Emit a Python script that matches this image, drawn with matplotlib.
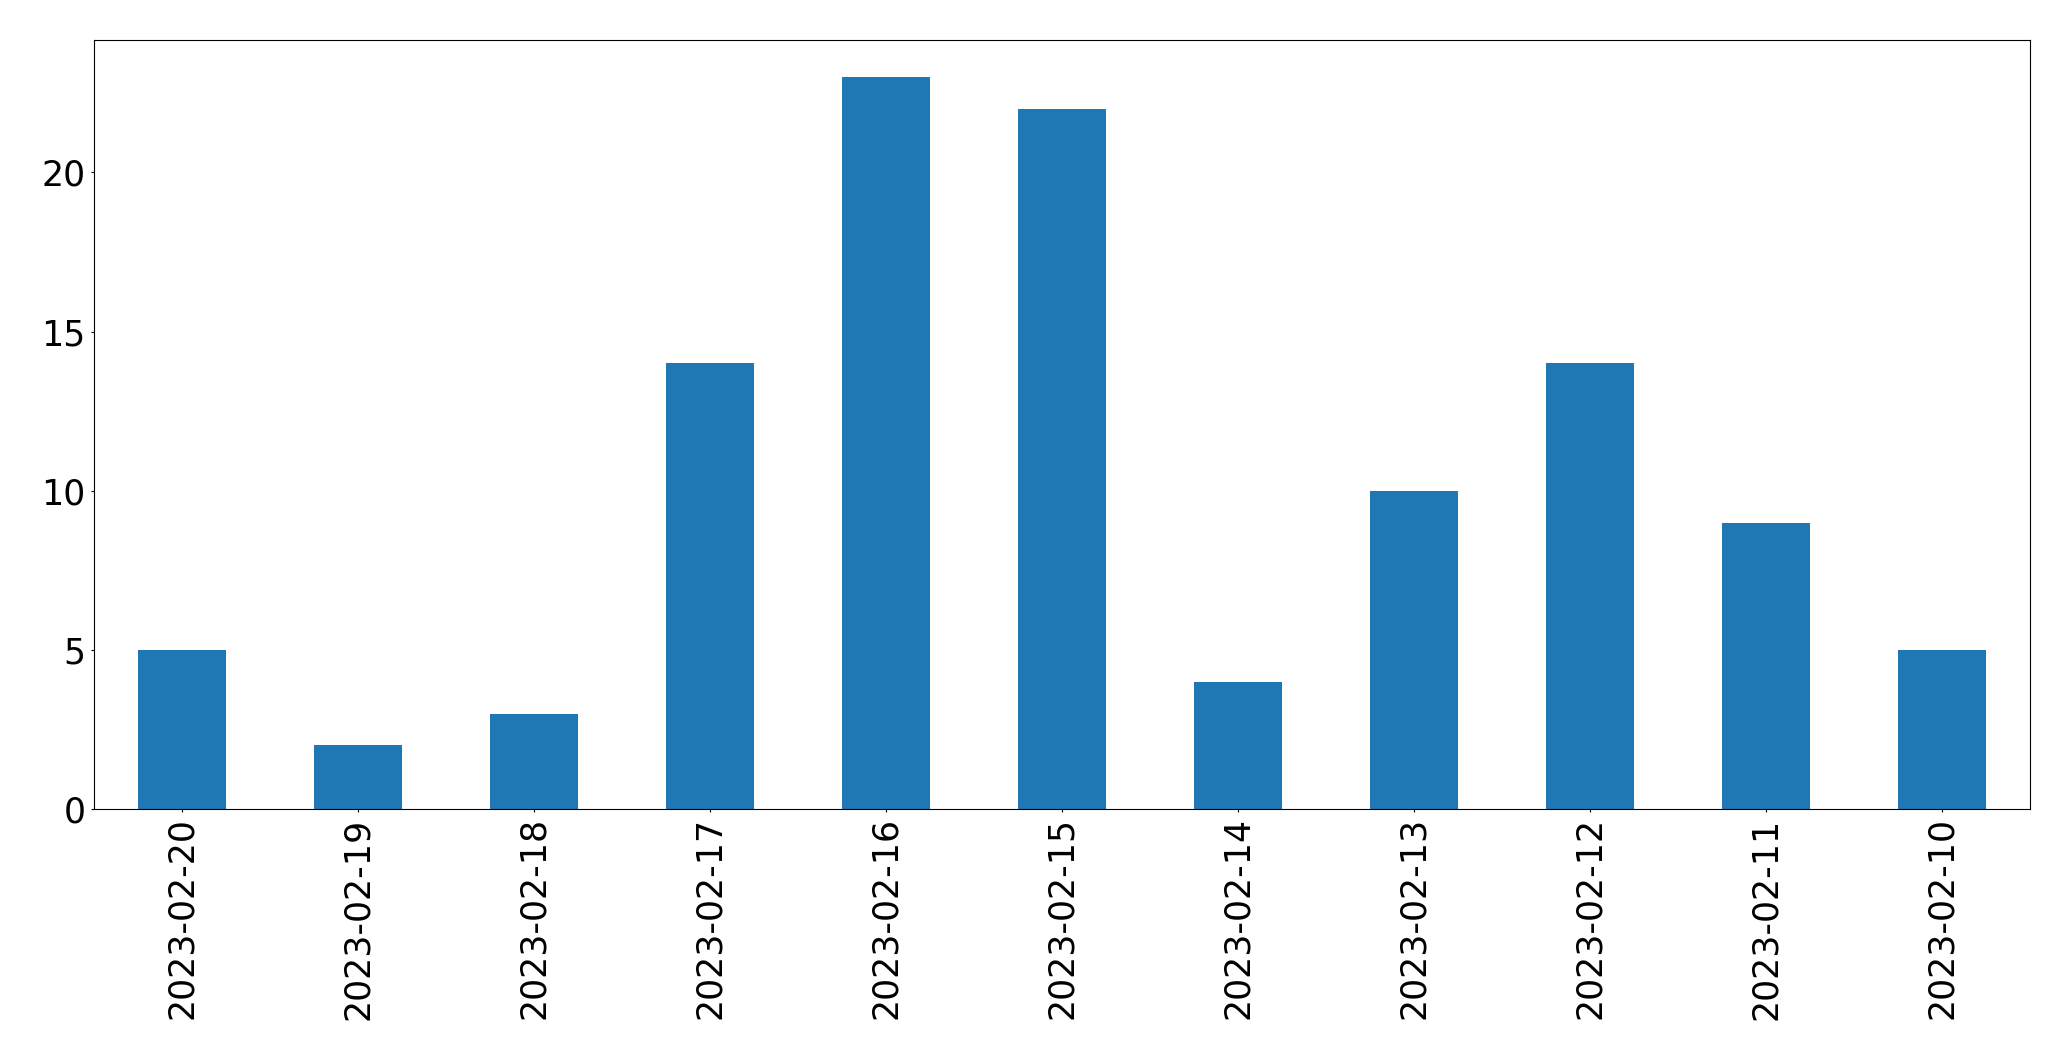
import matplotlib
matplotlib.use('Agg')
import matplotlib.pyplot as plt
import numpy as np

dates = ['2023-02-20', '2023-02-19', '2023-02-18', '2023-02-17', '2023-02-16', '2023-02-15',
         '2023-02-14', '2023-02-13', '2023-02-12', '2023-02-11', '2023-02-10']
counts = [5, 2, 3, 14, 23, 22, 4, 10, 14, 9, 5]

fig, ax = plt.subplots(figsize=(20.71, 10.61), dpi=100)
fig.subplots_adjust(left=0.0454, right=0.980, top=0.962, bottom=0.2375)

x = np.arange(len(dates))
ax.bar(x, counts, width=0.5, color='#1f77b4')
ax.set_xlim(-0.5, len(dates) - 0.5)
ax.set_ylim(0, max(counts) * 1.05)
ax.set_xticks(x)
ax.set_xticklabels(dates, rotation=90)
ax.set_yticks([0, 5, 10, 15, 20])
ax.tick_params(labelsize=25, length=2.5)

fig.savefig('out.png', dpi=100)
